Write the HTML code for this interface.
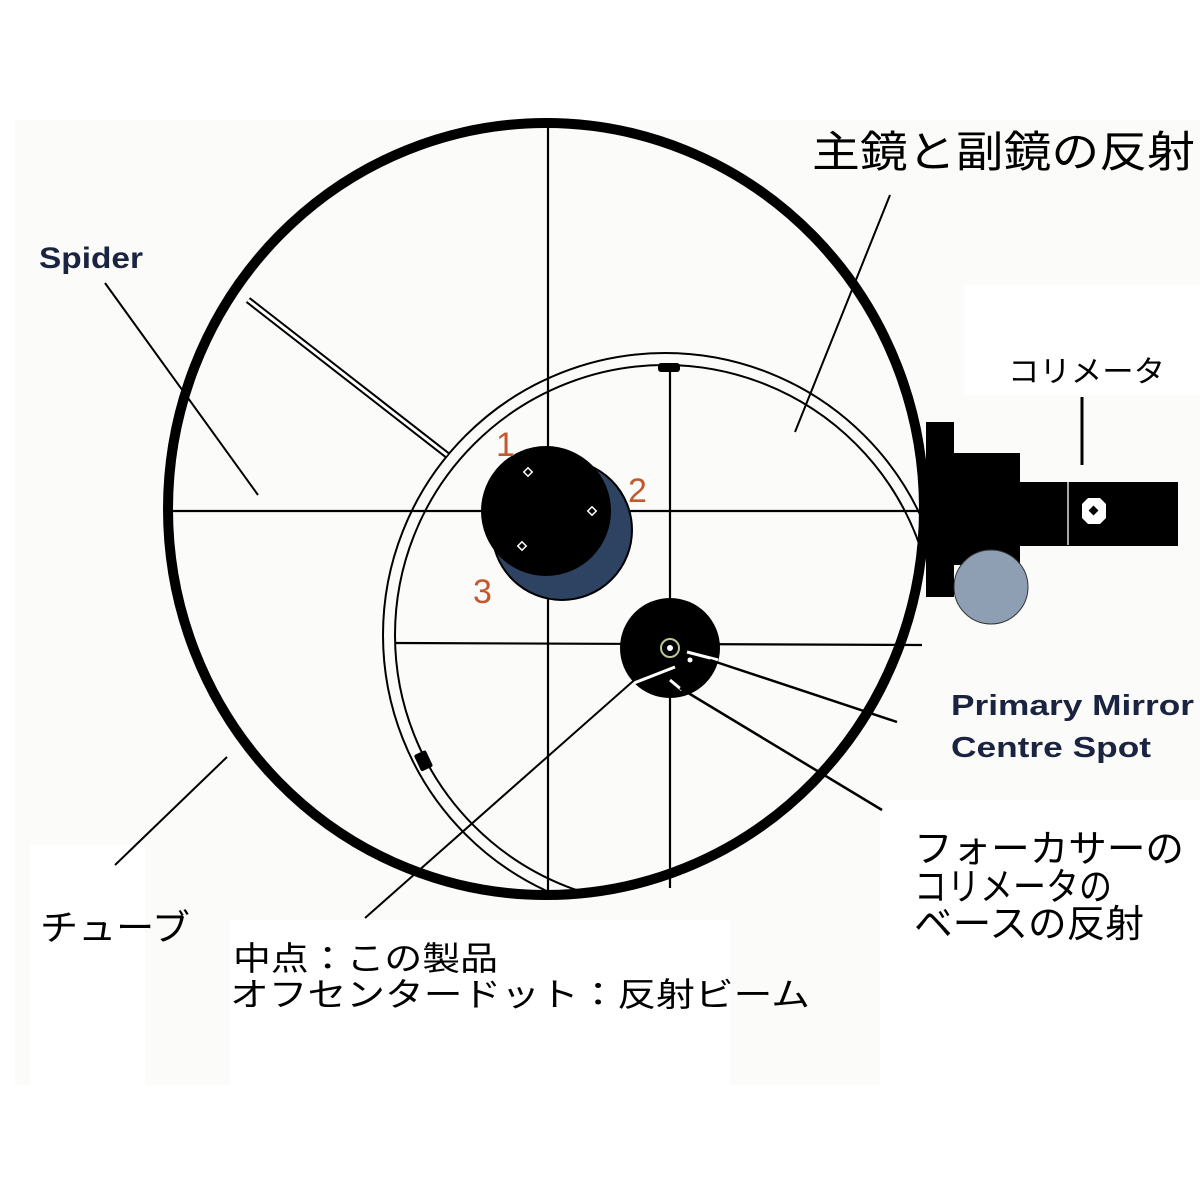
<!DOCTYPE html>
<html><head><meta charset="utf-8"><style>
html,body{margin:0;padding:0;background:#fff}
svg{display:block}
</style></head><body>
<svg width="1200" height="1200" viewBox="0 0 1200 1200" xmlns="http://www.w3.org/2000/svg">
<defs>
<clipPath id="inner"><ellipse cx="546" cy="509" rx="376" ry="384"/></clipPath>
</defs>
<rect x="0" y="0" width="1200" height="1200" fill="#fff"/>
<rect x="15" y="120" width="1185" height="965" fill="#fbfbfa"/>
<rect x="965" y="285" width="235" height="110" fill="#fff"/>
<rect x="30" y="845" width="115" height="240" fill="#fff"/>
<rect x="230" y="920" width="500" height="165" fill="#fff"/>
<rect x="880" y="800" width="320" height="285" fill="#fff"/>

<g clip-path="url(#inner)" fill="none" stroke="#000" stroke-width="2">
<circle cx="665" cy="635" r="282"/>
<circle cx="665" cy="635" r="270"/>
</g>
<line x1="548" y1="122" x2="548" y2="895" stroke="#000" stroke-width="2.2"/>
<line x1="172" y1="511" x2="922" y2="511" stroke="#000" stroke-width="2.2"/>
<line x1="248" y1="300" x2="447" y2="455" stroke="#000" stroke-width="7"/>
<line x1="248" y1="300" x2="447" y2="455" stroke="#fff" stroke-width="3"/>
<line x1="670" y1="368" x2="670" y2="888" stroke="#000" stroke-width="2.2"/>
<line x1="395" y1="643" x2="922" y2="645" stroke="#000" stroke-width="2.2"/>
<rect x="658" y="363" width="22" height="9" rx="3" fill="#000"/>
<rect x="417" y="752" width="13" height="18" rx="2" fill="#000" transform="rotate(-25 423 761)"/>

<ellipse cx="546" cy="509" rx="378" ry="386" fill="none" stroke="#000" stroke-width="10"/>

<circle cx="562" cy="530" r="70" fill="#2e4262" stroke="#000" stroke-width="2"/>
<circle cx="546" cy="511" r="65" fill="#000"/>
<g fill="none" stroke="#fff" stroke-width="1.5">
<rect x="525" y="469" width="6" height="6" transform="rotate(45 528 472)"/>
<rect x="589" y="508" width="6" height="6" transform="rotate(45 592 511)"/>
<rect x="519" y="543" width="6" height="6" transform="rotate(45 522 546)"/>
</g>
<g font-family="Liberation Sans, sans-serif" font-size="34" fill="#c4582c">
<text x="496" y="456">1</text>
<text x="628" y="502">2</text>
<text x="473" y="603">3</text>
</g>

<circle cx="670" cy="648" r="50" fill="#000"/>
<circle cx="670" cy="648" r="9" fill="none" stroke="#b8c890" stroke-width="2"/>
<circle cx="670" cy="648" r="3" fill="#fff"/>
<circle cx="690" cy="660" r="2.5" fill="#fff"/>
<line x1="687" y1="652" x2="718" y2="660" stroke="#fff" stroke-width="3"/>
<line x1="634" y1="683" x2="675" y2="667" stroke="#fff" stroke-width="3"/>
<line x1="670" y1="680" x2="682" y2="690" stroke="#fff" stroke-width="3"/>

<rect x="926" y="422" width="28" height="175" fill="#000"/>
<rect x="950" y="453" width="70" height="112" fill="#000"/>
<rect x="1018" y="482" width="160" height="64" fill="#000"/>
<line x1="1068" y1="482" x2="1068" y2="545" stroke="#ddd" stroke-width="1.5"/>
<polygon points="1088,498 1100,498 1106,504 1106,518 1100,524 1088,524 1082,518 1082,504" fill="#fff"/>
<rect x="1090" y="507" width="7" height="7" fill="#000" transform="rotate(45 1093.5 510.5)"/>
<circle cx="991" cy="587" r="37" fill="#8e9fb4" stroke="#333" stroke-width="1"/>

<g stroke="#000" stroke-width="2" fill="none">
<line x1="105" y1="283" x2="258" y2="495"/>
<line x1="890" y1="195" x2="795" y2="432"/>
<line x1="1082" y1="397" x2="1082" y2="465" stroke-width="3"/>
<line x1="115" y1="865" x2="227" y2="757"/>
<line x1="365" y1="918" x2="640" y2="675"/>
<line x1="710" y1="660" x2="897" y2="722" stroke-width="2.5"/>
<line x1="680" y1="688" x2="882" y2="810" stroke-width="2.5"/>
</g>

<g font-family="Liberation Sans, sans-serif" font-weight="bold" fill="#1a2340">
<text x="39" y="268" font-size="30" textLength="104" lengthAdjust="spacingAndGlyphs">Spider</text>
<text x="951" y="715" font-size="29" textLength="243" lengthAdjust="spacingAndGlyphs">Primary Mirror</text>
<text x="951" y="757" font-size="29" textLength="200" lengthAdjust="spacingAndGlyphs">Centre Spot</text>
</g>
<g font-family="Liberation Sans, 'Noto Sans CJK JP', sans-serif" fill="#000">
<text x="812" y="167" font-size="43" textLength="383" lengthAdjust="spacingAndGlyphs">主鏡と副鏡の反射</text>
<text x="1008" y="382" font-size="30" textLength="157" lengthAdjust="spacingAndGlyphs">コリメータ</text>
<text x="914" y="862" font-size="38" textLength="270" lengthAdjust="spacingAndGlyphs">フォーカサーの</text>
<text x="914" y="900" font-size="38" textLength="198" lengthAdjust="spacingAndGlyphs">コリメータの</text>
<text x="914" y="937" font-size="38" textLength="230" lengthAdjust="spacingAndGlyphs">ベースの反射</text>
<text x="40" y="940" font-size="36" textLength="150" lengthAdjust="spacingAndGlyphs">チューブ</text>
<text x="233" y="970" font-size="33" textLength="265" lengthAdjust="spacingAndGlyphs">中点：この製品</text>
<text x="230" y="1006" font-size="33" textLength="580" lengthAdjust="spacingAndGlyphs">オフセンタードット：反射ビーム</text>
</g>
</svg>
</body></html>
